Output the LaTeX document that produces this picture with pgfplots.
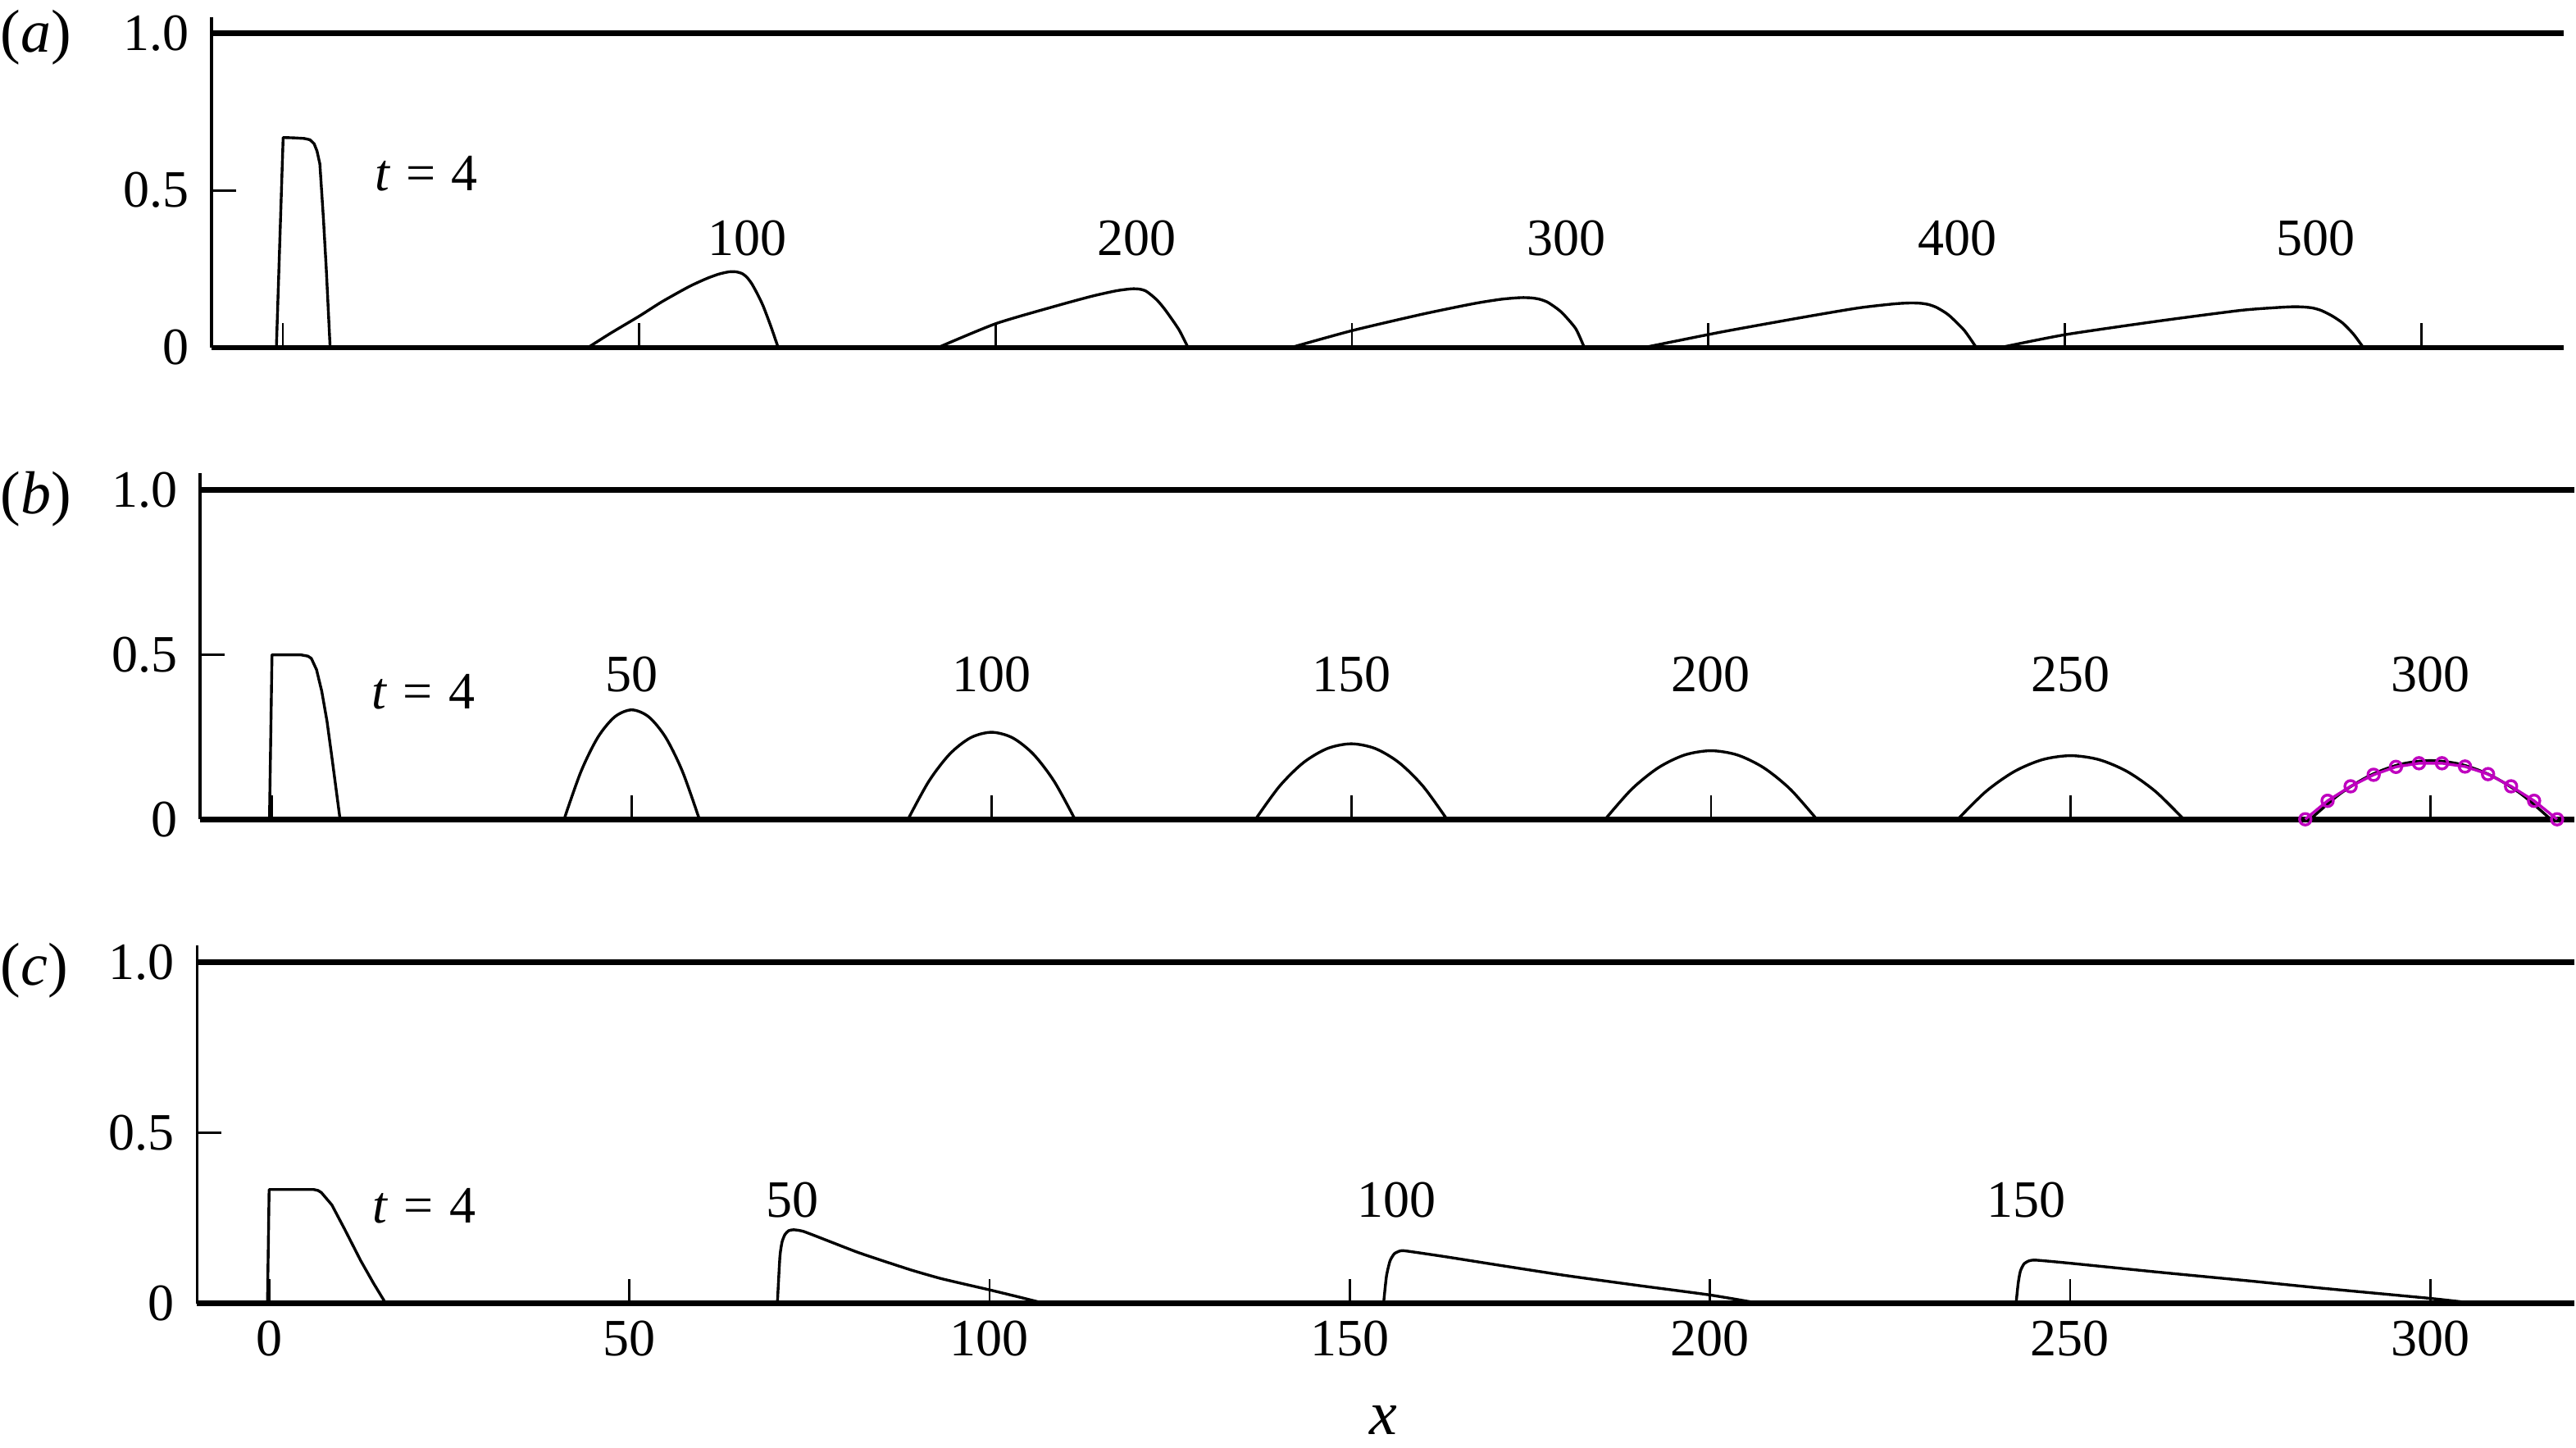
\documentclass[border=0pt]{standalone}
\usepackage{fontspec}
\setmainfont{Liberation Serif}
\usepackage{pgfplots}
\pgfplotsset{compat=1.18}
\definecolor{mag}{rgb}{0.75,0,0.75}
\pgfplotsset{
  panel/.style={
    scale only axis, anchor=south west,
    xmin=-10, xmax=320, ymin=0, ymax=1.05,
    axis x line*=bottom, axis y line*=left,
    x axis line style={line width=1.7pt},
    y axis line style={line width=0.8pt},
    xtick={0,50,...,300}, ytick={0,0.5,1}, yticklabels={0,0.5,1.0},
    tick align=inside, major tick length=7.4pt,
    tick style={line width=0.7pt, black},
    tick label style={font=\fontsize{16}{19}\selectfont},
    yticklabel style={xshift=-3.4pt},
    xticklabel style={yshift=-1.7pt},
    /pgf/number format/assume math mode=true,
    clip=false,
    cycle list={{black, solid, mark=none}},
    every axis plot/.append style={line width=0.85pt, line join=round},
  },
}
\tikzset{lbl/.style={font=\fontsize{16}{19}\selectfont, anchor=base, inner sep=0pt}}
\newcommand{\teq}{\textit{t}\hspace{0.3em}=\hspace{0.3em}4}
\begin{document}
\begin{tikzpicture}
\path[use as bounding box] (0pt,0pt) rectangle (785.5pt,441.5pt);

% ---------------- panel (a)
\begin{axis}[panel, at={(64.5pt,335.5pt)}, width=717.25pt, height=100.7pt, xticklabels={,,,,,,}]
\addplot[black, line width=1.7pt] coordinates {(-10,1) (320,1)};
\addplot coordinates {(-0.9,0) (0.05,0.668) (1.5,0.667) (3.0,0.665) (3.8,0.661) (4.4,0.648) (4.8,0.625) (5.2,0.584) (5.7,0.41) (6.1,0.25) (6.64,0)};
\addplot+[smooth, tension=0.4] coordinates {(42.8,0) (46,0.046) (50,0.100) (53.2,0.146) (57.0,0.194) (59.5,0.220) (61.2,0.234) (62.6,0.241) (63.6,0.241) (64.4,0.236) (65.1,0.224) (65.8,0.203) (66.6,0.170) (67.4,0.132) (68.5,0.066) (69.5,0)};
\addplot+[smooth, tension=0.4] coordinates {(91.9,0) (100,0.076) (108.4,0.132) (113.6,0.164) (117,0.181) (119.1,0.187) (120.2,0.186) (121,0.181) (121.7,0.170) (122.7,0.150) (123.8,0.120) (125.7,0.058) (127.0,0)};
\addplot+[smooth, tension=0.4] coordinates {(141.4,0) (150,0.054) (159.8,0.106) (167.1,0.140) (171,0.154) (173.7,0.159) (175.2,0.158) (176.3,0.154) (177.4,0.145) (178.6,0.127) (179.6,0.108) (181.4,0.060) (182.6,0)};
\addplot+[smooth, tension=0.4] coordinates {(190.9,0) (201.9,0.05) (213.4,0.097) (221,0.126) (226,0.139) (228.3,0.142) (229.8,0.141) (230.9,0.137) (232,0.128) (233.2,0.112) (234,0.098) (235.9,0.055) (237.6,0)};
\addplot+[smooth, tension=0.4] coordinates {(240.9,0) (250,0.041) (263,0.084) (274.5,0.118) (279.5,0.127) (282.1,0.130) (283.6,0.129) (284.8,0.126) (286,0.118) (287.5,0.101) (289,0.078) (290.5,0.043) (291.9,0)};
\node[lbl, anchor=base west] at (axis cs:12.8,0.498) {\teq};
\node[lbl] at (axis cs:65.2,0.293) {100};
\node[lbl] at (axis cs:119.8,0.293) {200};
\node[lbl] at (axis cs:180.1,0.293) {300};
\node[lbl] at (axis cs:234.9,0.293) {400};
\node[lbl] at (axis cs:285.2,0.293) {500};
\end{axis}

% ---------------- panel (b)
\begin{axis}[panel, at={(61pt,191.7pt)}, width=724pt, height=105.5pt, xticklabels={,,,,,,}]
\addplot[black, line width=1.7pt] coordinates {(-10,1) (320,1)};
\addplot coordinates {(-0.35,0) (0,0.499) (4.0,0.499) (5.0,0.495) (5.47,0.488) (6.19,0.454) (6.92,0.388) (7.65,0.297) (8.37,0.181) (9.46,0)};
\addplot+[smooth] coordinates {(40.6,0) (42.95,0.145) (45.3,0.249) (47.65,0.311) (50,0.332) (52.35,0.311) (54.7,0.249) (57.05,0.145) (59.4,0)};
\addplot+[smooth] coordinates {(88.4,0) (91.3,0.1155) (94.2,0.198) (97.1,0.2475) (100,0.264) (102.9,0.2475) (105.8,0.198) (108.7,0.1155) (111.6,0)};
\addplot+[smooth] coordinates {(136.7,0) (140.03,0.1002) (143.35,0.1718) (146.68,0.2147) (150,0.229) (153.33,0.2147) (156.65,0.1718) (159.98,0.1002) (163.3,0)};
\addplot+[smooth] coordinates {(185.3,0) (188.97,0.091) (192.65,0.156) (196.32,0.195) (200,0.208) (203.68,0.195) (207.35,0.156) (211.03,0.091) (214.7,0)};
\addplot+[smooth] coordinates {(234.3,0) (238.22,0.0844) (242.15,0.1448) (246.07,0.1809) (250,0.193) (253.93,0.1809) (257.85,0.1448) (261.78,0.0844) (265.7,0)};
\addplot+[smooth] coordinates {(283.3,0) (287.47,0.0779) (291.65,0.1335) (295.82,0.1669) (300,0.178) (304.18,0.1669) (308.35,0.1335) (312.53,0.0779) (316.7,0)};
\addplot[mag, line width=0.85pt, mark=o, mark size=1.75pt, mark options={line width=0.85pt, solid}] coordinates {(282.6,0.0) (285.7,0.056) (288.9,0.10) (292.1,0.135) (295.2,0.159) (298.4,0.170) (301.6,0.170) (304.8,0.160) (308.0,0.137) (311.2,0.10) (314.4,0.056) (317.6,0.0)};
\node[lbl, anchor=base west] at (axis cs:13.8,0.334) {\teq};
\node[lbl] at (axis cs:50,0.388) {50};
\node[lbl] at (axis cs:100,0.388) {100};
\node[lbl] at (axis cs:150,0.388) {150};
\node[lbl] at (axis cs:200,0.388) {200};
\node[lbl] at (axis cs:250,0.388) {250};
\node[lbl] at (axis cs:300,0.388) {300};
\end{axis}

% ---------------- panel (c)
\begin{axis}[panel, at={(60.1pt,44.05pt)}, width=724.9pt, height=109.3pt]
\addplot[black, line width=1.7pt] coordinates {(-10,1) (320,1)};
\addplot coordinates {(-0.23,0) (0,0.334) (6.17,0.334) (6.8,0.331) (7.25,0.325) (8.7,0.289) (10.5,0.217) (12.7,0.126) (14.5,0.059) (16.2,0)};
\addplot+[smooth, tension=0.35] coordinates {(70.55,0) (70.9,0.136) (71.2,0.180) (71.6,0.202) (72.1,0.213) (72.8,0.216) (74.2,0.211) (77.9,0.181) (81.7,0.150) (85.5,0.123) (89.3,0.097) (93.1,0.074) (96.5,0.057) (100,0.040) (103.9,0.020) (107.7,0)};
\addplot+[smooth, tension=0.35] coordinates {(154.7,0) (155.1,0.08) (155.6,0.125) (156.2,0.146) (157.0,0.154) (157.8,0.154) (163,0.138) (170.8,0.112) (180,0.082) (190,0.053) (200,0.025) (207,0)};
\addplot+[smooth, tension=0.35] coordinates {(242.5,0) (242.8,0.06) (243.1,0.095) (243.6,0.116) (244.3,0.125) (245.3,0.127) (250,0.118) (262.2,0.092) (275,0.066) (284.9,0.045) (300,0.015) (306.4,0)};
\node[lbl, anchor=base west] at (axis cs:14.3,0.237) {\teq};
\node[lbl] at (axis cs:72.6,0.252) {50};
\node[lbl] at (axis cs:156.5,0.253) {100};
\node[lbl] at (axis cs:243.9,0.253) {150};
\end{axis}

% panel labels and x label
\node[anchor=base west, inner sep=0pt, font=\fontsize{18.5}{22}\selectfont] at (0pt,425.7pt) {(\textit{a})};
\node[anchor=base west, inner sep=0pt, font=\fontsize{18.5}{22}\selectfont] at (0pt,284.8pt) {(\textit{b})};
\node[anchor=base west, inner sep=0pt, font=\fontsize{18.5}{22}\selectfont] at (0pt,141pt) {(\textit{c})};
\node[anchor=base, inner sep=0pt, font=\fontsize{19}{22}\selectfont] at (421.75pt,4pt) {\textit{x}};
\end{tikzpicture}
\end{document}
